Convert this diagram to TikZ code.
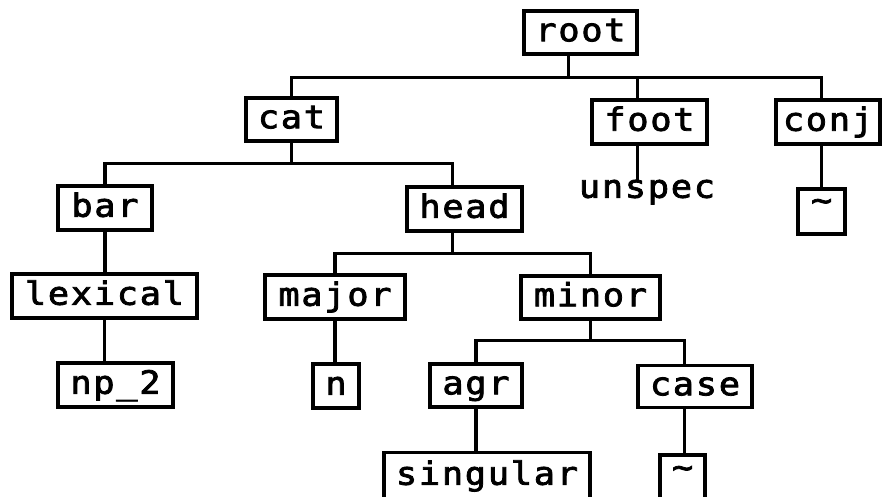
\documentclass[tikz,border=0pt]{standalone}
\usepackage{fontspec}
\newfontfamily\treefont{DejaVu Sans Mono}[LetterSpace=5.6, FakeStretch=1.1, FakeBold=2.5]
\usetikzlibrary{calc}
\tikzset{
  lbl/.style={font=\treefont\fontsize{32}{32}\selectfont,
              text height=27.5pt, text depth=10pt, inner sep=0pt},
  box/.style={lbl, draw, line width=3.2pt},
  link/.style={line width=3.2pt},
}
\newcommand{\tildemark}{\raisebox{9pt}{\textasciitilde}}
\begin{document}
\begin{tikzpicture}[x=1pt,y=-1pt]
\useasboundingbox (0,0) rectangle (882,497);
\clip (0,0) rectangle (882,497);

% level 0 / 1
\node[box, minimum width=113pt, minimum height=43pt] (root)   at (580.5,32.5) {root};
\node[box, minimum width=91pt,  minimum height=43pt] (cat)    at (291.5,119.5) {cat};
\node[box, minimum width=115pt, minimum height=44pt] (foot)   at (649.5,122) {foot};
\node[box, minimum width=104pt, minimum height=44pt] (conj)   at (828,122) {conj};

% level 2
\node[lbl] (unspec) at (647,189) {unspec};
\node[box, minimum width=47pt,  minimum height=45pt] (tildeA) at (821.5,211.5) {\tildemark};
\node[box, minimum width=94pt,  minimum height=44pt] (bar)    at (105,208) {bar};
\node[box, minimum width=115pt, minimum height=44pt] (head)   at (464.5,209) {head};

% level 3
\node[box, minimum width=185pt, minimum height=44pt] (lexical) at (104.5,296) {lexical};
\node[box, minimum width=140pt, minimum height=44pt] (major)   at (335,297) {major};
\node[box, minimum width=139pt, minimum height=43pt] (minor)   at (590.5,297.5) {minor};

% level 4
\node[box, minimum width=115pt, minimum height=44pt] (np2)  at (115.5,385) {np\_2};
\node[box, minimum width=46pt,  minimum height=44pt] (n)    at (336,386) {n};
\node[box, minimum width=92pt,  minimum height=43pt] (agr)  at (476,385.5) {agr};
\node[box, minimum width=114pt, minimum height=42pt] (case) at (695,386.5) {case};

% level 5
\node[box, minimum width=206pt, minimum height=47pt] (singular) at (487,476) {singular};
\node[box, minimum width=45pt,  minimum height=47pt] (tildeB)   at (682.5,478.5) {\tildemark};

% rails
\coordinate (rail1) at ($(root.south west)+(46,22)$);
\coordinate (rail2) at ($(cat.south)+(0,21)$);
\coordinate (rail3) at ($([xshift=47pt]head.south west)+(0,21)$);
\coordinate (rail4) at ($(minor.south)+(0,20)$);

% root
\draw[link] ([xshift=46pt]root.south west) -- (rail1);
\draw[link] (cat.north) |- (rail1) -| ([xshift=47pt]conj.north west);
\draw[link] (rail1) -| ([xshift=47pt]foot.north west);
\draw[link] ([xshift=47pt]foot.south west) -- ([yshift=-12pt]$([xshift=47pt]foot.south west)!(unspec.north)!([xshift=47pt,yshift=-10pt]foot.south west)$);
\draw[link] ([xshift=47pt]conj.south west) -- ([xshift=47pt]conj.south west |- tildeA.north);

% cat
\draw[link] (cat.south) -- (rail2);
\draw[link] (bar.north) |- (rail2) -| ([xshift=47pt]head.north west);
\draw[link] (bar.south) -- (bar.south |- lexical.north);
\draw[link] (lexical.south) -- (lexical.south |- np2.north);

% head
\draw[link] ([xshift=47pt]head.south west) -- (rail3);
\draw[link] (major.north) |- (rail3) -| (minor.north);
\draw[link] (major.south) -- (major.south |- n.north);

% minor
\draw[link] (minor.south) -- (rail4);
\draw[link] (agr.north) |- (rail4) -| ([xshift=48pt]case.north west);
\draw[link] (agr.south) -- (agr.south |- singular.north);
\draw[link] ([xshift=48pt]case.south west) -- ([xshift=48pt]case.south west |- tildeB.north);
\end{tikzpicture}
\end{document}
